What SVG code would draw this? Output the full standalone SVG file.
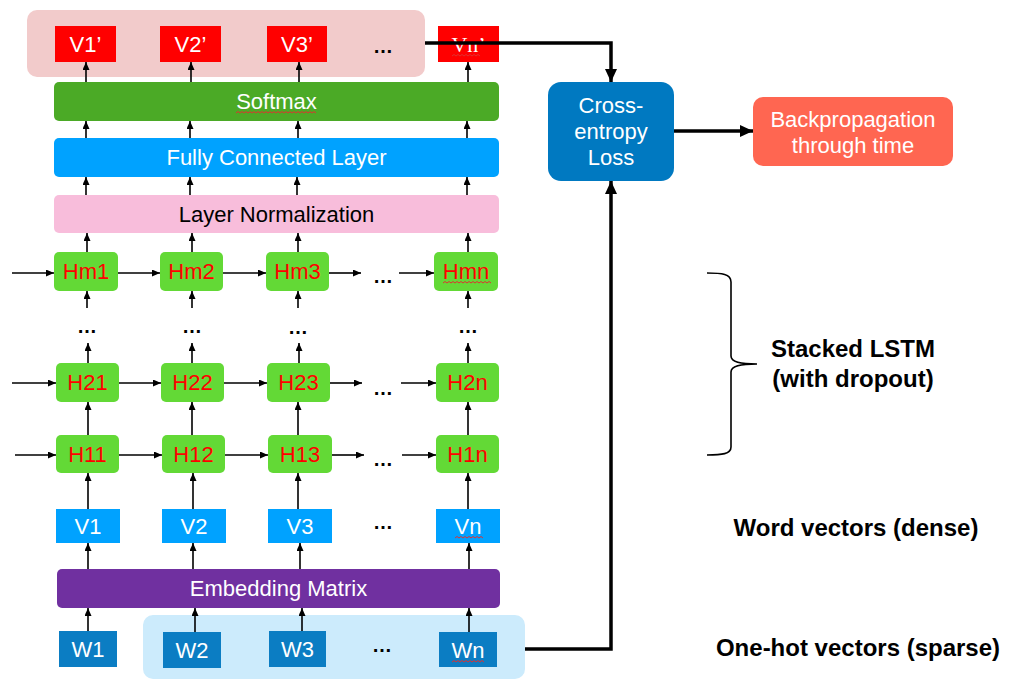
<svg xmlns="http://www.w3.org/2000/svg" width="1017" height="680" viewBox="0 0 1017 680">
<defs>
<marker id="a" markerUnits="userSpaceOnUse" markerWidth="8" markerHeight="7" viewBox="0 0 8 7" refX="8" refY="3.5" orient="auto"><path d="M0,0 L8,3.5 L0,7 z" fill="#000"/></marker>
<marker id="A" markerUnits="userSpaceOnUse" markerWidth="13" markerHeight="12" viewBox="0 0 13 12" refX="13" refY="6" orient="auto"><path d="M0,0 L13,6 L0,12 z" fill="#000"/></marker>
</defs>
<style>
text{font-family:"Liberation Sans",Arial,sans-serif;font-size:22px;text-anchor:middle}
.w{fill:#fff}
.r{fill:#f00}
.k{fill:#000}
.b{font-weight:bold;fill:#000;font-size:24px}
.dots{font-weight:bold;font-size:20px;fill:#000}
.t{stroke:#000;stroke-width:1.6;fill:none;marker-end:url(#a)}
.T{stroke:#000;stroke-width:3.5;fill:none;marker-end:url(#A)}
.red{fill:#f00}
.lstm{fill:#63D936}
.vb{fill:#00A2FF}
.wb{fill:#0B7DC3}
.sq{stroke:#e03030;stroke-width:1;fill:none}
</style>
<rect x="27" y="10" width="398" height="67" rx="10" fill="#F2CBCB"/>
<rect x="143" y="615" width="382" height="64" rx="10" fill="#CCEBFC"/>

<g id="connectors">
<path class="t" d="M86,82V62"/><path class="t" d="M191,82V62"/><path class="t" d="M299,82V62"/><path class="t" d="M468,82V62"/>
<path class="t" d="M86,138V121"/><path class="t" d="M190,138V121"/><path class="t" d="M298,138V121"/><path class="t" d="M467,138V121"/>
<path class="t" d="M86,195V177"/><path class="t" d="M190,195V177"/><path class="t" d="M297,195V177"/><path class="t" d="M467,195V177"/>
<path class="t" d="M87,252V233"/><path class="t" d="M192,252V233"/><path class="t" d="M298,252V233"/><path class="t" d="M468,252V233"/>
<path class="t" d="M87,308V291"/><path class="t" d="M192,308V291"/><path class="t" d="M298,308V291"/><path class="t" d="M468,308V291"/>
<path class="t" d="M88,363V343"/><path class="t" d="M192,363V343"/><path class="t" d="M299,363V343"/><path class="t" d="M468,363V343"/>
<path class="t" d="M88,435V402"/><path class="t" d="M192,435V402"/><path class="t" d="M298,435V402"/><path class="t" d="M468,435V402"/>
<path class="t" d="M88,509V473"/><path class="t" d="M193,509V473"/><path class="t" d="M298,509V473"/><path class="t" d="M468,509V473"/>
<path class="t" d="M88,569V543"/><path class="t" d="M193,569V543"/><path class="t" d="M300,569V543"/><path class="t" d="M469,569V543"/>
<path class="t" d="M88,631V608"/><path class="t" d="M195,632V608"/><path class="t" d="M302,631V608"/><path class="t" d="M469,632V608"/>
<path class="t" d="M12,273H54"/><path class="t" d="M118,273H160"/><path class="t" d="M223,273H266"/><path class="t" d="M329,273H361"/><path class="t" d="M399,273H434"/>
<path class="t" d="M12,383H56"/><path class="t" d="M119,383H161"/><path class="t" d="M224,383H267"/><path class="t" d="M330,383H362"/><path class="t" d="M401,383H436"/>
<path class="t" d="M15,455H56"/><path class="t" d="M119,455H162"/><path class="t" d="M225,455H268"/><path class="t" d="M332,455H364"/><path class="t" d="M402,455H436"/>
</g>

<g id="outputs">
<g id="v1o"><rect class="red" x="55" y="26" width="61" height="36"/><text class="w" x="85.5" y="52">V1’</text></g>
<g id="v2o"><rect class="red" x="160" y="26" width="61" height="36"/><text class="w" x="190.5" y="52">V2’</text></g>
<g id="v3o"><rect class="red" x="267" y="26" width="60" height="36"/><text class="w" x="297" y="52">V3’</text></g>
<text class="dots" x="383" y="53">…</text>
<g id="vno"><rect class="red" x="438" y="26" width="61" height="36"/><text class="w" x="468.5" y="52" style="font-family:'Liberation Serif',serif">Vn’</text><path class="sq" d="M452,56l2,-1.5l2,1.5l2,-1.5l2,1.5l2,-1.5l2,1.5l2,-1.5l2,1.5l2,-1.5l2,1.5l2,-1.5l2,1.5l2,-1.5l2,1.5"/></g>
</g>

<g id="softmax"><rect x="54" y="82" width="445" height="39" rx="5" fill="#4BAA26"/><text class="w" x="276.5" y="109">Softmax</text><path class="sq" d="M236,113l2,-1.5l2,1.5l2,-1.5l2,1.5l2,-1.5l2,1.5l2,-1.5l2,1.5l2,-1.5l2,1.5l2,-1.5l2,1.5l2,-1.5l2,1.5l2,-1.5l2,1.5l2,-1.5l2,1.5l2,-1.5l2,1.5l2,-1.5l2,1.5l2,-1.5l2,1.5l2,-1.5l2,1.5l2,-1.5l2,1.5l2,-1.5l2,1.5l2,-1.5l2,1.5l2,-1.5l2,1.5l2,-1.5l2,1.5l2,-1.5l2,1.5l2,-1.5l2,1.5"/></g>
<g id="fc"><rect x="54" y="138" width="445" height="39" rx="5" fill="#00A2FF"/><text class="w" x="276.5" y="165">Fully Connected Layer</text></g>
<g id="layernorm"><rect x="54" y="195" width="445" height="38" rx="5" fill="#F8BDDB"/><text class="k" x="276.5" y="222">Layer Normalization</text></g>

<g id="lstm-m">
<g id="hm1"><rect class="lstm" x="54" y="252" width="64" height="39" rx="5"/><text class="r" x="86" y="279">Hm1</text></g>
<g id="hm2"><rect class="lstm" x="160" y="252" width="63" height="39" rx="5"/><text class="r" x="191.5" y="279">Hm2</text></g>
<g id="hm3"><rect class="lstm" x="266" y="252" width="63" height="39" rx="5"/><text class="r" x="297.5" y="279">Hm3</text></g>
<text class="dots" x="383" y="283">…</text>
<g id="hmn"><rect class="lstm" x="434" y="252" width="64" height="39" rx="5"/><text class="r" x="466" y="279">Hmn</text><path class="sq" d="M443,283l2,-1.5l2,1.5l2,-1.5l2,1.5l2,-1.5l2,1.5l2,-1.5l2,1.5l2,-1.5l2,1.5l2,-1.5l2,1.5l2,-1.5l2,1.5l2,-1.5l2,1.5l2,-1.5l2,1.5l2,-1.5l2,1.5l2,-1.5l2,1.5l2,-1.5l2,1.5"/></g>
</g>
<g id="lstm-dots">
<text class="dots" x="87" y="333">…</text><text class="dots" x="192" y="333">…</text><text class="dots" x="298" y="334">…</text><text class="dots" x="468" y="333">…</text>
</g>
<g id="lstm-2">
<g id="h21"><rect class="lstm" x="56" y="363" width="63" height="39" rx="5"/><text class="r" x="87.5" y="390">H21</text></g>
<g id="h22"><rect class="lstm" x="161" y="363" width="63" height="39" rx="5"/><text class="r" x="192.5" y="390">H22</text></g>
<g id="h23"><rect class="lstm" x="267" y="363" width="63" height="39" rx="5"/><text class="r" x="298.5" y="390">H23</text></g>
<text class="dots" x="383" y="395">…</text>
<g id="h2n"><rect class="lstm" x="436" y="363" width="63" height="39" rx="5"/><text class="r" x="467.5" y="390">H2n</text></g>
</g>
<g id="lstm-1">
<g id="h11"><rect class="lstm" x="56" y="435" width="63" height="38" rx="5"/><text class="r" x="87.5" y="462">H11</text></g>
<g id="h12"><rect class="lstm" x="162" y="435" width="63" height="38" rx="5"/><text class="r" x="193.5" y="462">H12</text></g>
<g id="h13"><rect class="lstm" x="268" y="435" width="64" height="38" rx="5"/><text class="r" x="300" y="462">H13</text></g>
<text class="dots" x="383" y="466">…</text>
<g id="h1n"><rect class="lstm" x="436" y="435" width="63" height="38" rx="5"/><text class="r" x="467.5" y="462">H1n</text></g>
</g>

<g id="vectors">
<g id="v1"><rect class="vb" x="56" y="509" width="64" height="34"/><text class="w" x="88" y="534">V1</text></g>
<g id="v2"><rect class="vb" x="162" y="509" width="64" height="34"/><text class="w" x="194" y="534">V2</text></g>
<g id="v3"><rect class="vb" x="268" y="509" width="64" height="34"/><text class="w" x="300" y="534">V3</text></g>
<text class="dots" x="383" y="529">…</text>
<g id="vn"><rect class="vb" x="436" y="509" width="64" height="34"/><text class="w" x="468" y="534">Vn</text><path class="sq" d="M455,538l2,-1.5l2,1.5l2,-1.5l2,1.5l2,-1.5l2,1.5l2,-1.5l2,1.5l2,-1.5l2,1.5l2,-1.5l2,1.5l2,-1.5l2,1.5"/></g>
</g>

<g id="embedding"><rect x="57" y="569" width="443" height="39" rx="5" fill="#7030A0"/><text class="w" x="278.5" y="596">Embedding Matrix</text></g>

<g id="words">
<g id="w1"><rect class="wb" x="59" y="631" width="58" height="36"/><text class="w" x="88" y="657">W1</text></g>
<g id="w2"><rect class="wb" x="163" y="632" width="58" height="36"/><text class="w" x="192" y="658">W2</text></g>
<g id="w3"><rect class="wb" x="269" y="631" width="57" height="36"/><text class="w" x="297.5" y="657">W3</text></g>
<text class="dots" x="382" y="652">…</text>
<g id="wn"><rect class="wb" x="439" y="632" width="58" height="35"/><text class="w" x="468" y="658">Wn</text><path class="sq" d="M452,662l2,-1.5l2,1.5l2,-1.5l2,1.5l2,-1.5l2,1.5l2,-1.5l2,1.5l2,-1.5l2,1.5l2,-1.5l2,1.5l2,-1.5l2,1.5l2,-1.5l2,1.5"/></g>
</g>

<g id="thick-connectors">
<path class="T" d="M425,43H611V82"/>
<path class="T" d="M525,649H611V181"/>
<path class="T" d="M674,131H753"/>
</g>

<g id="loss"><rect x="548" y="82" width="126" height="99" rx="13" fill="#0079C1"/><text class="w" x="611" y="113">Cross-</text><text class="w" x="611" y="139">entropy</text><text class="w" x="611" y="165">Loss</text></g>
<g id="bptt"><rect x="753" y="97" width="200" height="69" rx="10" fill="#FF6651"/><text class="w" x="853" y="127">Backpropagation</text><text class="w" x="853" y="153">through time</text></g>

<g id="labels">
<path d="M707,273C722,273 731,274 731,282V356C731,362 740,364 757,364C740,364 731,366 731,372V447C731,454 722,455 707,455" fill="none" stroke="#000" stroke-width="1.6"/>
<text class="b" x="853" y="357">Stacked LSTM</text>
<text class="b" x="853" y="387">(with dropout)</text>
<text class="b" x="856" y="536">Word vectors (dense)</text>
<text class="b" x="858" y="656">One-hot vectors (sparse)</text>
</g>
</svg>
